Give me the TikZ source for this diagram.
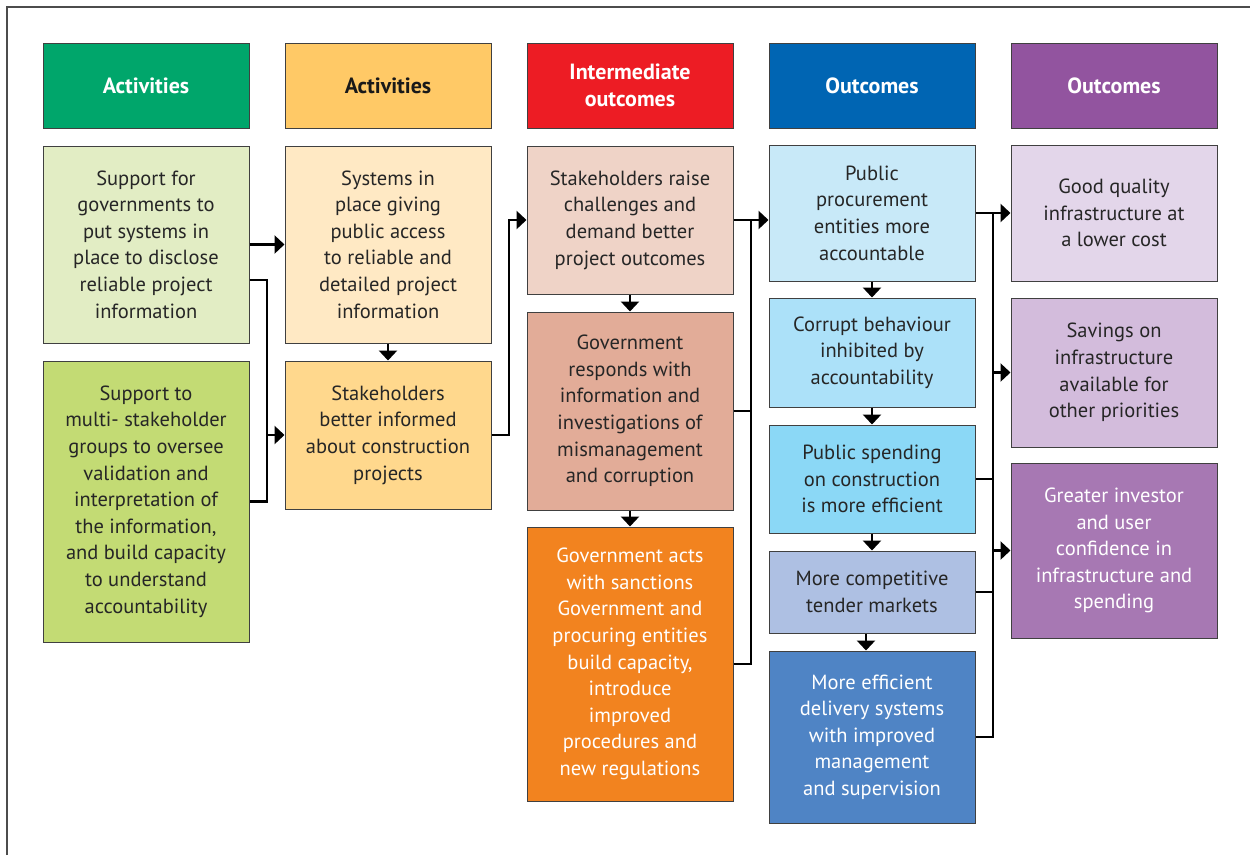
\documentclass[tikz,border=0pt]{standalone}
\usepackage{fontspec}
\setmainfont{PT Sans}
\usepackage{tikz}
\usetikzlibrary{arrows.meta}

\definecolor{headGreen}{HTML}{00A66B}
\definecolor{headAmber}{HTML}{FFC966}
\definecolor{headRed}{HTML}{ED1C24}
\definecolor{headBlue}{HTML}{0065B3}
\definecolor{headPurple}{HTML}{92549F}
\definecolor{actA}{HTML}{E2EDC4}
\definecolor{actB}{HTML}{C3DB74}
\definecolor{sysA}{HTML}{FFE9C4}
\definecolor{sysB}{HTML}{FFD88D}
\definecolor{midA}{HTML}{EFD3C7}
\definecolor{midB}{HTML}{E2AC98}
\definecolor{midC}{HTML}{F2831F}
\definecolor{outA}{HTML}{C8E9F8}
\definecolor{outB}{HTML}{ACE1F9}
\definecolor{outC}{HTML}{8BD8F6}
\definecolor{outD}{HTML}{AEC0E3}
\definecolor{outE}{HTML}{4F84C5}
\definecolor{finA}{HTML}{E3D6EA}
\definecolor{finB}{HTML}{D3BCDC}
\definecolor{finC}{HTML}{A778B3}

\begin{document}
\begin{tikzpicture}[x=1pt,y=-1pt]
    \tikzstyle{box}=[rectangle,draw=black!75,line width=1pt,minimum width=206pt,inner sep=0pt,align=center,text=black!85,font=\fontsize{20.5}{26.6}\selectfont]
    \tikzstyle{head}=[box,minimum height=85pt,text=white,font=\bfseries\fontsize{22}{27}\selectfont]
    \tikzstyle{link}=[line width=2.5pt,black]
    \tikzstyle{arr}=[link,-{Triangle[length=10pt,width=18pt]}]
    \useasboundingbox (0,0) rectangle (1250,855);
    \draw[line width=1.5pt,black!70] (7,855) -- (7,7) -- (1250,7);
    % headers
    \node[head,fill=headGreen] (h1) at (146,85.5) {Activities};
    \node[head,fill=headAmber,text=black!90] (h2) at (388,85.5) {Activities};
    \node[head,fill=headRed] (h3) at (630,85.5) {Intermediate\\outcomes};
    \node[head,fill=headBlue] (h4) at (872,85.5) {Outcomes};
    \node[head,fill=headPurple] (h5) at (1114,85.5) {Outcomes};
    % activities
    \node[box,fill=actA,minimum height=197pt] (a1) at (146,244.5) {Support for\\governments to\\put systems in\\place to disclose\\reliable project\\information};
    \node[box,fill=actB,minimum height=281pt] (a2) at (146,501.5) {Support to\\multi- stakeholder\\groups to oversee\\validation and\\interpretation of\\the information,\\and build capacity\\to understand\\accountability};
    \node[box,fill=sysA,minimum height=197pt] (b1) at (388,244.5) {Systems in\\place giving\\public access\\to reliable and\\detailed project\\information};
    \node[box,fill=sysB,minimum height=148pt] (b2) at (388,435) {Stakeholders\\better informed\\about construction\\projects};
    % intermediate outcomes
    \node[box,fill=midA,minimum height=148pt] (c1) at (630,220) {Stakeholders raise\\challenges and\\demand better\\project outcomes};
    \node[box,fill=midB,minimum height=198pt] (c2) at (630,411) {Government\\responds with\\information and\\investigations of\\mismanagement\\and corruption};
    \node[box,fill=midC,minimum height=274pt,text=white] (c3) at (630,664) {Government acts\\with sanctions\\Government and\\procuring entities\\build capacity,\\introduce\\improved\\procedures and\\new regulations};
    % outcomes
    \node[box,fill=outA,minimum height=136pt] (d1) at (872,213) {Public\\procurement\\entities more\\accountable};
    \node[box,fill=outB,minimum height=109pt] (d2) at (872,352.5) {Corrupt behaviour\\inhibited by\\accountability};
    \node[box,fill=outC,minimum height=108pt] (d3) at (872,479) {Public spending\\on construction\\is more efficient};
    \node[box,fill=outD,minimum height=82pt] (d4) at (872,592) {More competitive\\tender markets};
    \node[box,fill=outE,minimum height=172pt,text=white] (d5) at (872,737) {More efficient\\delivery systems\\with improved\\management\\and supervision};
    \node[box,fill=finA,minimum height=136pt] (e1) at (1114,213) {Good quality\\infrastructure at\\a lower cost};
    \node[box,fill=finB,minimum height=149pt] (e2) at (1114,372.5) {Savings on\\infrastructure\\available for\\other priorities};
    \node[box,fill=finC,minimum height=175pt,text=white] (e3) at (1114,550.5) {Greater investor\\and user\\confidence in\\infrastructure and\\spending};
    % junctions
    \coordinate (j1) at (267,435);
    \coordinate (j2) at (509,435);
    \coordinate (j3) at (751,220);
    \coordinate (j4) at (993,213);
    % connectors
    \draw[arr] (a1) -- (b1);
    \draw[link] ([yshift=-35.5pt]a1.east) -| (j1) |- (a2.east);
    \draw[arr] (j1) -- (b2);
    \draw[arr] (b1) -- (b2);
    \draw[arr] (b2.east) -- (j2) |- (c1.west);
    \draw[arr] (c1) -- (c2);
    \draw[arr] (c2) -- (c3);
    \draw[arr] (c1.east) -- (c1.east -| d1.west);
    \draw[link] (c2.east) -- (c2.east -| j3);
    \draw[link] (c3.east) -| (j3);
    \draw[arr] (d1) -- (d2);
    \draw[arr] (d2) -- (d3);
    \draw[arr] (d3) -- (d4);
    \draw[arr] ([xshift=-6pt]d4.south) -- ([xshift=-6pt]d5.north);
    \draw[arr] (d1) -- (e1);
    \draw[link] (d3.east) -- (d3.east -| j4);
    \draw[link] (d4.east) -- (d4.east -| j4);
    \draw[link] (d5.east) -| (j4);
    \draw[arr] (e2.west -| j4) -- (e2.west);
    \draw[arr] (e3.west -| j4) -- (e3.west);
  \end{tikzpicture}
\end{document}
